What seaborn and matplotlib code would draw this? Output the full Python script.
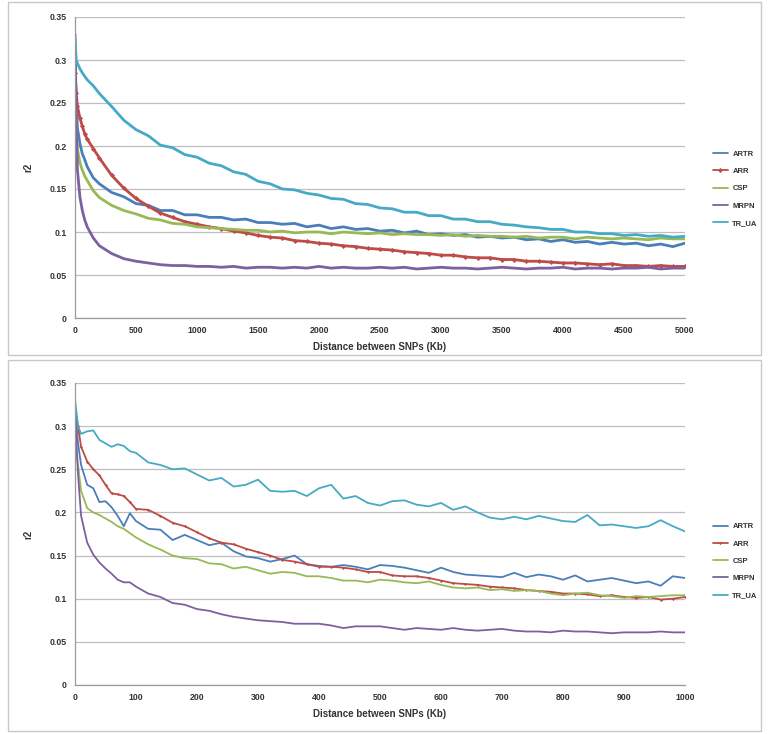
import pandas as pd
import matplotlib.pyplot as plt
import seaborn as sns
from matplotlib.patches import Rectangle

# series names and colours (Excel 2007 default palette)
names = ["ARTR", "ARR", "CSP", "MRPN", "TR_UA"]
colors = ["#4A7EBB", "#BE4B48", "#98B954", "#7D60A0", "#46AAC5"]

# top chart: distance up to 5000 Kb
x_top = [0, 10, 20, 40, 60, 80, 100, 150, 200, 300, 400, 500, 600, 700, 800, 900,
         1000, 1100, 1200, 1300, 1400, 1500, 1600, 1700, 1800, 1900, 2000, 2100,
         2200, 2300, 2400, 2500, 2600, 2700, 2800, 2900, 3000, 3100, 3200, 3300,
         3400, 3500, 3600, 3700, 3800, 3900, 4000, 4100, 4200, 4300, 4400, 4500,
         4600, 4700, 4800, 4900, 5000]
artr_top = [0.310, 0.252, 0.221, 0.203, 0.191, 0.184, 0.176, 0.163, 0.156, 0.146,
            0.141, 0.133, 0.131, 0.125, 0.125, 0.120, 0.120, 0.117, 0.117, 0.114,
            0.115, 0.111, 0.111, 0.109, 0.110, 0.106, 0.108, 0.104, 0.106, 0.103,
            0.104, 0.101, 0.102, 0.099, 0.101, 0.097, 0.098, 0.096, 0.097, 0.094,
            0.095, 0.093, 0.094, 0.091, 0.092, 0.089, 0.091, 0.088, 0.089, 0.086,
            0.088, 0.086, 0.087, 0.084, 0.086, 0.083, 0.087]
arr_top = [0.285, 0.262, 0.246, 0.233, 0.223, 0.214, 0.208, 0.197, 0.186, 0.166,
           0.151, 0.139, 0.130, 0.122, 0.117, 0.112, 0.109, 0.106, 0.104, 0.101,
           0.099, 0.096, 0.094, 0.093, 0.090, 0.089, 0.087, 0.086, 0.084, 0.083,
           0.081, 0.080, 0.079, 0.077, 0.076, 0.075, 0.073, 0.073, 0.071, 0.070,
           0.070, 0.068, 0.068, 0.066, 0.066, 0.065, 0.064, 0.064, 0.063, 0.062,
           0.063, 0.061, 0.061, 0.060, 0.061, 0.060, 0.060]
csp_top = [0.280, 0.222, 0.196, 0.181, 0.172, 0.165, 0.160, 0.148, 0.140, 0.131,
           0.125, 0.121, 0.116, 0.114, 0.110, 0.109, 0.106, 0.105, 0.104, 0.103,
           0.102, 0.102, 0.100, 0.101, 0.099, 0.100, 0.100, 0.098, 0.100, 0.099,
           0.098, 0.099, 0.097, 0.098, 0.097, 0.097, 0.096, 0.097, 0.095, 0.096,
           0.095, 0.095, 0.094, 0.095, 0.093, 0.094, 0.094, 0.092, 0.094, 0.093,
           0.092, 0.093, 0.092, 0.091, 0.093, 0.092, 0.092]
mrpn_top = [0.330, 0.222, 0.172, 0.141, 0.125, 0.114, 0.106, 0.093, 0.084, 0.075,
            0.069, 0.066, 0.064, 0.062, 0.061, 0.061, 0.060, 0.060, 0.059, 0.060,
            0.058, 0.059, 0.059, 0.058, 0.059, 0.058, 0.060, 0.058, 0.059, 0.058,
            0.058, 0.059, 0.058, 0.059, 0.057, 0.058, 0.059, 0.058, 0.058, 0.057,
            0.058, 0.059, 0.058, 0.057, 0.058, 0.058, 0.059, 0.057, 0.058, 0.058,
            0.057, 0.058, 0.058, 0.059, 0.057, 0.058, 0.058]
trua_top = [0.325, 0.300, 0.296, 0.290, 0.285, 0.281, 0.277, 0.270, 0.261, 0.246,
            0.230, 0.219, 0.212, 0.201, 0.198, 0.190, 0.187, 0.180, 0.177, 0.170,
            0.167, 0.159, 0.156, 0.150, 0.149, 0.145, 0.143, 0.139, 0.138, 0.133,
            0.132, 0.128, 0.127, 0.123, 0.123, 0.119, 0.119, 0.115, 0.115, 0.112,
            0.112, 0.109, 0.108, 0.106, 0.105, 0.103, 0.103, 0.100, 0.100, 0.098,
            0.098, 0.096, 0.097, 0.095, 0.096, 0.094, 0.095]

# bottom chart: distance up to 1000 Kb
x_bot = [0, 5, 10, 20, 30, 40, 50, 60, 70, 80, 90, 100, 120, 140, 160, 180, 200,
         220, 240, 260, 280, 300, 320, 340, 360, 380, 400, 420, 440, 460, 480, 500,
         520, 540, 560, 580, 600, 620, 640, 660, 680, 700, 720, 740, 760, 780, 800,
         820, 840, 860, 880, 900, 920, 940, 960, 980, 1000]
artr_bot = [0.322, 0.280, 0.255, 0.232, 0.228, 0.212, 0.213, 0.206, 0.196, 0.184,
            0.199, 0.190, 0.181, 0.180, 0.168, 0.174, 0.168, 0.162, 0.165, 0.155,
            0.149, 0.147, 0.143, 0.146, 0.150, 0.140, 0.138, 0.137, 0.139, 0.137,
            0.134, 0.139, 0.138, 0.136, 0.133, 0.130, 0.136, 0.131, 0.128, 0.127,
            0.126, 0.125, 0.130, 0.125, 0.128, 0.126, 0.122, 0.127, 0.120, 0.122,
            0.124, 0.121, 0.118, 0.120, 0.115, 0.126, 0.124]
arr_bot = [0.319, 0.300, 0.276, 0.259, 0.250, 0.243, 0.232, 0.222, 0.221, 0.219,
           0.212, 0.204, 0.203, 0.196, 0.188, 0.184, 0.177, 0.170, 0.165, 0.163,
           0.158, 0.154, 0.150, 0.145, 0.143, 0.140, 0.137, 0.137, 0.136, 0.134,
           0.131, 0.131, 0.127, 0.126, 0.126, 0.124, 0.121, 0.118, 0.117, 0.116,
           0.114, 0.113, 0.112, 0.110, 0.109, 0.108, 0.106, 0.106, 0.105, 0.103,
           0.104, 0.102, 0.101, 0.102, 0.099, 0.100, 0.102]
csp_bot = [0.275, 0.255, 0.225, 0.205, 0.200, 0.197, 0.193, 0.189, 0.184, 0.181,
           0.176, 0.171, 0.163, 0.157, 0.150, 0.147, 0.146, 0.141, 0.140, 0.135,
           0.137, 0.133, 0.129, 0.131, 0.130, 0.126, 0.126, 0.124, 0.121, 0.121,
           0.119, 0.122, 0.121, 0.119, 0.118, 0.120, 0.116, 0.113, 0.112, 0.113,
           0.110, 0.111, 0.109, 0.110, 0.109, 0.106, 0.104, 0.106, 0.107, 0.104,
           0.103, 0.101, 0.103, 0.102, 0.103, 0.104, 0.104]
mrpn_bot = [0.317, 0.244, 0.196, 0.165, 0.151, 0.142, 0.135, 0.129, 0.122, 0.119,
            0.119, 0.114, 0.106, 0.102, 0.095, 0.093, 0.088, 0.086, 0.082, 0.079,
            0.077, 0.075, 0.074, 0.073, 0.071, 0.071, 0.071, 0.069, 0.066, 0.068,
            0.068, 0.068, 0.066, 0.064, 0.066, 0.065, 0.064, 0.066, 0.064, 0.063,
            0.064, 0.065, 0.063, 0.062, 0.062, 0.061, 0.063, 0.062, 0.062, 0.061,
            0.060, 0.061, 0.061, 0.061, 0.062, 0.061, 0.061]
trua_bot = [0.331, 0.300, 0.291, 0.294, 0.295, 0.284, 0.280, 0.276, 0.279, 0.277,
            0.271, 0.269, 0.258, 0.255, 0.250, 0.251, 0.244, 0.237, 0.240, 0.230,
            0.232, 0.238, 0.225, 0.224, 0.225, 0.219, 0.228, 0.232, 0.216, 0.219,
            0.211, 0.208, 0.213, 0.214, 0.209, 0.207, 0.211, 0.203, 0.207, 0.200,
            0.194, 0.192, 0.195, 0.192, 0.196, 0.193, 0.190, 0.189, 0.197, 0.185,
            0.186, 0.184, 0.182, 0.184, 0.191, 0.184, 0.178]

y_ticks = [0, 0.05, 0.1, 0.15, 0.2, 0.25, 0.3, 0.35]
y_ticklabels = ["0", "0.05", "0.1", "0.15", "0.2", "0.25", "0.3", "0.35"]

sns.set_style("white")
plt.rcParams['font.family'] = ['Liberation Sans', 'DejaVu Sans']

fig = plt.figure(figsize=(7.68, 7.34), dpi=100)
W, H = 768, 734


def px_axes(x0, y0, x1, y1):
    # pixel box (top-left origin) -> figure fraction
    return fig.add_axes([x0 / W, 1 - y1 / H, (x1 - x0) / W, (y1 - y0) / H])


# outer chart frames
for (y0, y1) in [(2, 355), (360, 731)]:
    fig.add_artist(Rectangle((8 / W, 1 - y1 / H), 753 / W, (y1 - y0) / H,
                             transform=fig.transFigure, fill=False,
                             edgecolor="#C8C8C8", linewidth=1))

panels = [
    (px_axes(75, 17, 685, 318), x_top,
     [artr_top, arr_top, csp_top, mrpn_top, trua_top], 5000, 500, 0.43, 2.0, 2.6),
    (px_axes(75, 383, 685, 685), x_bot,
     [artr_bot, arr_bot, csp_bot, mrpn_bot, trua_bot], 1000, 100, 0.41, 1.3, 1.6),
]

for ax, xs, series, xmax, xstep, leg_y, lw, ms in panels:
    for name, col, ys in zip(names, colors, series):
        df = pd.DataFrame({"x": xs, "y": ys})
        kw = {}
        if name == "ARR":
            kw = dict(marker="D", markersize=ms, markeredgewidth=0)
        sns.lineplot(data=df, x="x", y="y", ax=ax, color=col, label=name,
                     linewidth=lw, **kw)
    ax.set_xlim(0, xmax)
    ax.set_ylim(0, 0.35)
    ax.set_yticks(y_ticks)
    ax.set_yticklabels(y_ticklabels)
    ax.set_xticks(list(range(0, xmax + 1, xstep)))
    ax.grid(axis="y", color="#BEBEBE", linewidth=0.9)
    ax.set_axisbelow(True)
    for side in ["top", "right"]:
        ax.spines[side].set_visible(False)
    for side in ["left", "bottom"]:
        ax.spines[side].set_color("#9A9A9A")
        ax.spines[side].set_linewidth(0.9)
    ax.tick_params(axis="both", labelsize=6.3, colors="#333333", length=3,
                   direction="out", width=0.8, pad=3)
    ax.tick_params(axis="both", color="#9A9A9A")
    for lab in ax.get_xticklabels() + ax.get_yticklabels():
        lab.set_fontweight("bold")
    ax.set_xlabel("Distance between SNPs (Kb)", fontsize=7, fontweight="bold",
                  color="#333333", labelpad=5)
    ax.set_ylabel("r2", fontsize=7, fontweight="bold", color="#333333",
                  labelpad=12)
    leg = ax.legend(loc="center left", bbox_to_anchor=(1.035, leg_y),
                    frameon=False, fontsize=5.5, handlelength=1.9,
                    labelspacing=1.3, handletextpad=0.6, labelcolor="#333333")
    for t in leg.get_texts():
        t.set_fontweight("bold")
    for h in leg.get_lines():
        h.set_linewidth(1.3)

fig.savefig("out.png", dpi=100)
